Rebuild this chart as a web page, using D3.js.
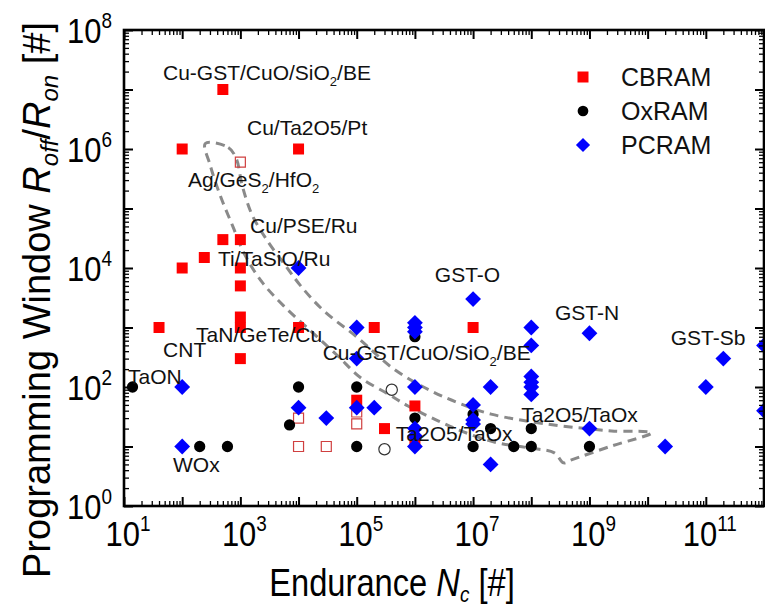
<!DOCTYPE html>
<html>
<head>
<meta charset="utf-8">
<script src="https://cdn.jsdelivr.net/npm/d3@7"></script>
<style>
  html, body { margin: 0; padding: 0; background: #fff; }
  svg { display: block; font-family: Arial, "Liberation Sans", Helvetica, sans-serif; }
</style>
</head>
<body>
<svg id="chart" width="765" height="606"></svg>
<script>
// ---------------- data ----------------
const cbramX = [500, 100, 1e4, 500, 1000, 240, 100, 1000, 1000, 1000, 1000, 40, 1000, 1e4, 2e5, 1e7, 1e5, 1e6, 3e5, 1e6];
const cbramY = [1e7, 1e6, 1e6, 3e4, 3e4, 1.5e4, 1e4, 1e4, 5e3, 1.5e3, 1e3, 1e3, 300, 1e3, 1e3, 1e3, 60, 48, 20, 12];
const cbramOpenX = [1000, 1e4, 1e4, 3e4, 1e5, 1e5];
const cbramOpenY = [6e5, 30, 10, 10, 38, 24];

const oxramX = [14, 200, 600, 1e4, 7e3, 1e5, 1e5, 1e6, 1e6, 1e7, 1e7, 2e7, 5e7, 1e8, 1e8, 1e9];
const oxramY = [100, 10, 10, 100, 23, 100, 10, 700, 30, 10, 35, 20, 10, 20, 10, 10];
const oxramOpenX = [4e5, 3e5];
const oxramOpenY = [90, 9];

const pcramX = [1e4, 1e5, 1e5, 1e5, 100, 100, 1e4, 3e4, 2e5, 1e6, 1e6, 1e6, 1e6, 1e6, 1e6, 1e6,
                1e7, 1e7, 1e7, 1e7, 2e7, 2e7, 1e8, 1e8, 1e8, 1e8, 1e8, 1e8, 1e9, 1e9, 2e10, 1e11, 2e11, 1e12, 1e12];
const pcramY = [1e4, 1e3, 300, 45, 100, 10, 45, 30, 45, 1200, 1000, 850, 100, 20, 15, 10,
                3000, 50, 28, 24, 100, 5, 1000, 500, 150, 120, 100, 75, 800, 20, 10, 100, 300, 500, 40];

// dashed boundary
const boundX = [250, 620, 850, 1080, 1610, 3040, 5970, 1.08e4, 2.7e4, 1.04e5, 4.3e5, 1.89e6, 6.2e6, 2.04e7, 1.8e8, 2.4e9, 1.17e10,
                2.4e9, 4.9e8, 3.6e8, 2.5e8, 8.9e7, 2.3e7, 6.2e6, 2.5e6, 7.6e5, 3.4e5, 1.17e5, 4.7e4, 1.6e4, 5500, 2400, 1220, 730, 450, 304];
const boundY = [1.24e6, 1.06e6, 6.9e5, 2.4e5, 7.6e4, 2.7e4, 1.1e4, 5060, 1920, 673, 202, 86, 52, 35, 24, 18.3, 17,
                10.2, 5.95, 5.3, 7.8, 9.5, 11.9, 18.3, 27, 48, 77, 143, 335, 883, 2330, 5680, 1.6e4, 5.2e4, 1.66e5, 5.3e5];

// annotations: [text parts], anchor x, anchor y (baseline)
const annoText = [
  [["Cu-GST/CuO/SiO", ""], ["2", "sub"], ["/BE", ""]],
  [["Cu/Ta2O5/Pt", ""]],
  [["Ag/GeS", ""], ["2", "sub"], ["/HfO", ""], ["2", "sub"]],
  [["Cu/PSE/Ru", ""]],
  [["Ti/TaSiO/Ru", ""]],
  [["TaN/GeTe/Cu", ""]],
  [["Cu-GST/CuO/SiO", ""], ["2", "sub"], ["/BE", ""]],
  [["CNT", ""]],
  [["TaON", ""]],
  [["WOx", ""]],
  [["GST-O", ""]],
  [["GST-N", ""]],
  [["GST-Sb", ""]],
  [["Ta2O5/TaOx", ""]],
  [["Ta2O5/TaOx", ""]]
];
const annoX = [46.8, 1300, 126, 1470, 413, 173, 2.6e4, 47, 11.7, 69.5, 2.2e6, 2.56e8, 2.5e10, 6.7e7, 4.7e5];
const annoY = [1.45e7, 1.72e6, 2.3e5, 3.9e4, 1.08e4, 570, 284, 319, 112, 3.73, 5800, 1337, 508, 25.8, 12.4];

const xTickLabels = [1, 3, 5, 7, 9, 11];
const yTickLabels = [0, 2, 4, 6, 8];
const legendNames = ["CBRAM", "OxRAM", "PCRAM"];

// ---------------- drawing ----------------
const svg = d3.select("#chart");
const L = 124, R = 764, T = 30, B = 506;
const x = d3.scaleLog().domain([10, 1e12]).range([L, R]);
const y = d3.scaleLog().domain([1, 1e8]).range([B, T]);

const RED = "#ff0000", BLUE = "#0000ff", BLACK = "#000000";

svg.append("defs").append("clipPath").attr("id", "clip")
  .append("rect").attr("x", L).attr("y", T).attr("width", R - L).attr("height", B - T);

// dashed boundary
const bound = boundX.map((v, i) => [v, boundY[i]]);
svg.append("path")
  .attr("d", d3.line().x(d => x(d[0])).y(d => y(d[1])).curve(d3.curveCatmullRomClosed.alpha(0.5))(bound))
  .attr("fill", "none").attr("stroke", "#8a8a8a").attr("stroke-width", 3)
  .attr("stroke-dasharray", "9,6");

const marks = svg.append("g").attr("clip-path", "url(#clip)");
const sq = d3.symbol().type(d3.symbolSquare).size(121);
const sqOpen = d3.symbol().type(d3.symbolSquare).size(100);
const circ = d3.symbol().type(d3.symbolCircle).size(100);
const diam = d3.symbol().type(d3.symbolSquare).size(125);

function plot(xs, ys, gen, fill, stroke, rot, sw) {
  marks.append("g").selectAll("path").data(xs.map((v, i) => [v, ys[i]])).join("path")
    .attr("d", gen)
    .attr("transform", d => `translate(${x(d[0])},${y(d[1])}) rotate(${rot})`)
    .attr("fill", fill).attr("stroke", stroke).attr("stroke-width", sw);
}
plot(cbramOpenX, cbramOpenY, sqOpen, "none", "#d04040", 0, 1.2);
plot(cbramX, cbramY, sq, RED, "none", 0, 0);
plot(oxramOpenX, oxramOpenY, circ, "none", "#333", 0, 1.2);
plot(oxramX, oxramY, circ, BLACK, "none", 0, 0);
plot(pcramX, pcramY, diam, BLUE, "none", 45, 0);

// axes ticks (inward, all four sides)
function decadeTicks(scale) {
  const [a, b] = scale.domain().map(Math.log10);
  const major = [], minor = [];
  for (let k = a; k <= b; k++) {
    major.push(Math.pow(10, k));
    if (k < b) for (let m = 2; m <= 9; m++) minor.push(m * Math.pow(10, k));
  }
  return { major, minor };
}
const xt = decadeTicks(x), yt = decadeTicks(y);
function drawAxis(axisFn, scale, vals, size, transform, sw) {
  const g = svg.append("g").attr("transform", transform)
    .call(axisFn(scale).tickValues(vals).tickSize(-size).tickSizeOuter(0).tickFormat(""));
  g.select(".domain").remove();
  g.selectAll("line").attr("stroke", "#000").attr("stroke-width", sw);
}
[[xt.minor, 5, 1.3], [xt.major, 9, 2]].forEach(([v, s, w]) => {
  drawAxis(d3.axisBottom, x, v, s, `translate(0,${B})`, w);
  drawAxis(d3.axisTop, x, v, s, `translate(0,${T})`, w);
});
[[yt.minor, 5, 1.3], [yt.major, 9, 2]].forEach(([v, s, w]) => {
  drawAxis(d3.axisLeft, y, v, s, `translate(${L},0)`, w);
  drawAxis(d3.axisRight, y, v, s, `translate(${R},0)`, w);
});
svg.append("rect").attr("x", L).attr("y", T).attr("width", R - L).attr("height", B - T)
  .attr("fill", "none").attr("stroke", "#000").attr("stroke-width", 2.6);

// tick labels
function powLabel(g, e) {
  const t = g.append("text").attr("fill", "#000");
  t.append("tspan").attr("font-size", 36).text("10");
  t.append("tspan").attr("font-size", 22).attr("dy", -15).text(e);
  return t;
}
xTickLabels.forEach(e => {
  const g = svg.append("g").attr("transform", `translate(${x(Math.pow(10, e)) + 4},${B + 40}) scale(0.86,1)`);
  powLabel(g, e).attr("text-anchor", "middle");
});
yTickLabels.forEach(e => {
  const g = svg.append("g").attr("transform", `translate(${L - 12},${y(Math.pow(10, e)) + 13}) scale(0.86,1)`);
  powLabel(g, e).attr("text-anchor", "end");
});

// axis titles
const xt_ = svg.append("g").attr("transform", `translate(392,${B + 90}) scale(0.86,1)`)
  .append("text").attr("text-anchor", "middle").attr("font-size", 38).attr("fill", "#000");
xt_.append("tspan").text("Endurance ");
xt_.append("tspan").attr("font-style", "italic").text("N");
xt_.append("tspan").attr("font-size", 22).attr("dy", 6).attr("font-style", "italic").text("c");
xt_.append("tspan").attr("dy", -6).text(" [#]");

const yt_ = svg.append("g").attr("transform", `translate(50,${(T + B) / 2 + 32}) rotate(-90)`)
  .append("text").attr("text-anchor", "middle").attr("font-size", 38).attr("fill", "#000");
yt_.append("tspan").text("Programming Window ");
yt_.append("tspan").attr("font-style", "italic").text("R");
yt_.append("tspan").attr("font-size", 24).attr("dy", 8).attr("font-style", "italic").text("off");
yt_.append("tspan").attr("dy", -8).text("/");
yt_.append("tspan").attr("font-style", "italic").text("R");
yt_.append("tspan").attr("font-size", 24).attr("dy", 8).attr("font-style", "italic").text("on");
yt_.append("tspan").attr("dy", -8).text(" [#]");

// annotations
annoText.forEach((parts, i) => {
  const t = svg.append("text").attr("x", x(annoX[i])).attr("y", y(annoY[i]))
    .attr("font-size", 21).attr("fill", "#111");
  let prevSub = false;
  parts.forEach(([s, kind]) => {
    const ts = t.append("tspan").text(s);
    if (kind === "sub") { ts.attr("font-size", 13).attr("dy", 6); prevSub = true; }
    else if (prevSub) { ts.attr("dy", -6); prevSub = false; }
  });
});

// legend
const lg = svg.append("g");
const legendGens = [[sq, RED, 0], [d3.symbol().type(d3.symbolCircle).size(90), BLACK, 0], [d3.symbol().type(d3.symbolSquare).size(100), BLUE, 45]];
legendNames.forEach((name, i) => {
  const cy = 77 + i * 34;
  lg.append("path").attr("d", legendGens[i][0])
    .attr("transform", `translate(583,${cy}) rotate(${legendGens[i][2]})`)
    .attr("fill", legendGens[i][1]);
  lg.append("text").attr("x", 621).attr("y", cy + 9).attr("font-size", 25).attr("fill", "#111").text(name);
});
</script>
</body>
</html>
